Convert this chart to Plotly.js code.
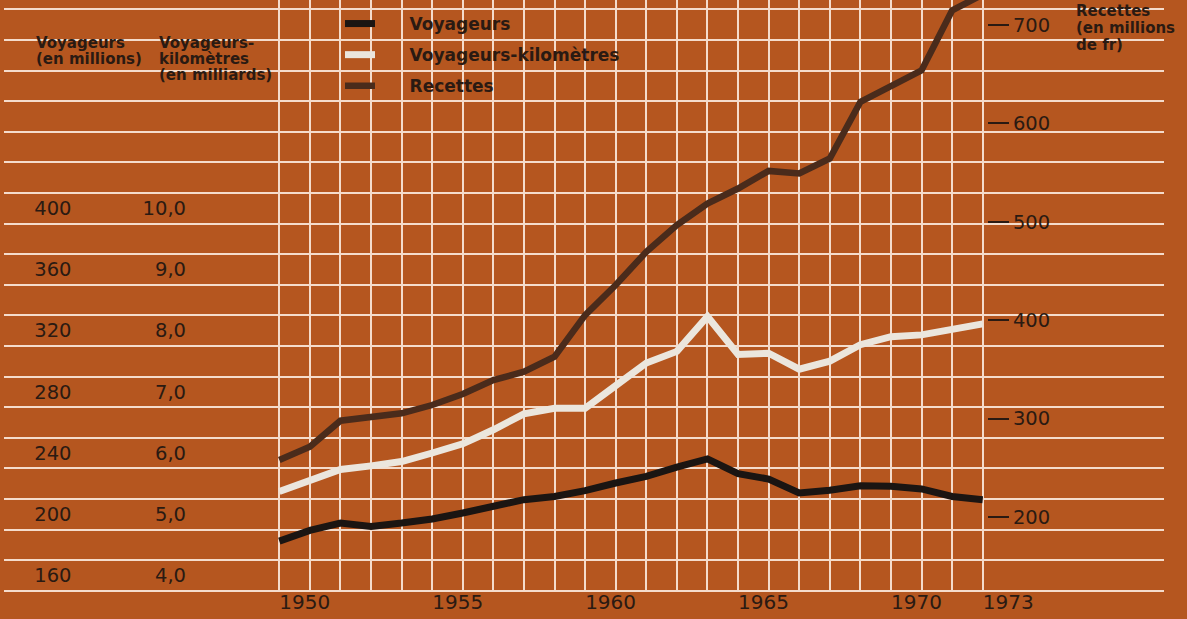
<!DOCTYPE html>
<html>
<head>
<meta charset="utf-8">
<script src="https://cdn.plot.ly/plotly-3.0.1.min.js"></script>
<style>
  html, body { margin: 0; padding: 0; background: #b5561f; }
  #chart { width: 1187px; height: 619px; }
</style>
</head>
<body>
<div id="chart"></div>
<script>
// ---- Data ----
const years = [1950, 1951, 1952, 1953, 1954, 1955, 1956, 1957, 1958, 1959, 1960, 1961,
               1962, 1963, 1964, 1965, 1966, 1967, 1968, 1969, 1970, 1971, 1972, 1973];
// Voyageurs (en millions)
const voyageurs = [182.4, 189.4, 194.2, 192.0, 194.2, 196.9, 200.8, 205.6, 209.5, 211.6, 215.4, 220.4,
                   224.7, 230.8, 236.1, 226.5, 223.0, 213.9, 215.6, 218.6, 218.2, 216.5, 211.6, 209.5];
// Voyageurs-kilomètres (en milliards)
const voyageursKm = [5.37, 5.54, 5.73, 5.79, 5.86, 6.00, 6.15, 6.38, 6.64, 6.73, 6.73, 7.10,
                     7.47, 7.66, 8.23, 7.61, 7.63, 7.37, 7.50, 7.77, 7.90, 7.93, 8.03, 8.11];
// Recettes (en millions de fr)
const recettes = [258, 271.5, 297.9, 302.0, 305.4, 313.8, 325.0, 339.2, 347.6, 362.9, 405.2, 435.7,
                  469.5, 496.6, 518.6, 533.8, 551.7, 549.1, 564.3, 621.8, 637.0, 653.9, 714.8, 731];

// ---- Tick labels ----
const xTickVals = years;
const xTickText = years.map(y => ([1950, 1955, 1960, 1965, 1970, 1973].includes(y) ? String(y) : ''));
const voyTickVals = [160, 200, 240, 280, 320, 360, 400];
const voyTickText = ['160', '200', '240', '280', '320', '360', '400'];
const vkTickVals = [4, 5, 6, 7, 8, 9, 10];
const vkTickText = ['4,0', '5,0', '6,0', '7,0', '8,0', '9,0', '10,0'];
const recTickVals = [200, 300, 400, 500, 600, 700];
const recTickText = ['200', '300', '400', '500', '600', '700'];

const seriesNames = ['Voyageurs', 'Voyageurs-kilomètres', 'Recettes'];

// ---- Style ----
const BG = '#b5561f';
const GRID = '#f5dccb';
const INK = '#2a1a12';
const FONT = 'DejaVu Sans';
const W = 1187, H = 619;
const M = {l: 4, r: 23, t: 0, b: 27};
const plotW = W - M.l - M.r, plotH = H - M.t - M.b;
// pixel -> paper helpers for text placement
const px = x => (x - M.l) / plotW;
const py = y => (H - M.b - y) / plotH;
const pad = '\u00a0\u00a0\u00a0\u00a0\u00a0';

const traces = [
  {x: years, y: voyageurs, yaxis: 'y', name: pad + seriesNames[0], legendgroup: 'a',
   mode: 'lines', line: {color: '#1b1512', width: 7}},
  {x: years, y: voyageursKm, yaxis: 'y2', name: pad + seriesNames[1], legendgroup: 'b',
   mode: 'lines', line: {color: '#ebe6dd', width: 7}},
  {x: years, y: recettes, yaxis: 'y3', name: pad + seriesNames[2], legendgroup: 'c',
   mode: 'lines', line: {color: '#4a2b1b', width: 6.5}}
];

const numFont = {family: FONT, size: 19.5, color: INK};
const titleFont = {family: FONT, size: 15, color: INK, weight: 'bold'};

function label(text, xpx, ypx, xanchor) {
  return {text: text, xref: 'paper', yref: 'paper', x: px(xpx), y: py(ypx),
          xanchor: xanchor || 'left', yanchor: 'middle', showarrow: false,
          font: titleFont, align: 'left'};
}

const layout = {
  width: W, height: H,
  margin: M,
  paper_bgcolor: BG, plot_bgcolor: BG,
  showlegend: true,
  legend: {xref: 'paper', yref: 'paper', x: px(340), y: py(6),
           xanchor: 'left', yanchor: 'top', bgcolor: 'rgba(0,0,0,0)',
           font: {family: FONT, size: 17, color: INK, weight: 'bold'},
           tracegroupgap: 6, itemwidth: 30},
  xaxis: {range: [1940.998, 1978.928], tickvals: xTickVals, ticktext: xTickText,
          showgrid: true, gridcolor: GRID, gridwidth: 2, zeroline: false, showline: false,
          ticks: '', tickangle: 0, ticklabelposition: 'outside right', ticklabelstandoff: -4,
          tickfont: {family: FONT, size: 20, color: INK}, fixedrange: true},
  yaxis: {range: [149.15, 536.08], tick0: 150, dtick: 20, showgrid: true, gridcolor: GRID, gridwidth: 2,
          zeroline: false, showline: false, showticklabels: false, fixedrange: true},
  yaxis4: {range: [149.15, 536.08], overlaying: 'y', anchor: 'free', position: px(71.5), side: 'left',
           tickvals: voyTickVals, ticktext: voyTickText, showgrid: false, zeroline: false,
           ticks: '', tickfont: numFont, fixedrange: true},
  yaxis2: {range: [3.7288, 13.402], overlaying: 'y', anchor: 'free', position: px(186), side: 'left',
           tickvals: vkTickVals, ticktext: vkTickText, showgrid: false, zeroline: false,
           ticks: '', tickfont: numFont, fixedrange: true},
  yaxis3: {range: [123.78, 725.41], overlaying: 'y', anchor: 'free', position: px(987), side: 'right',
           tickvals: recTickVals, ticktext: recTickText, showgrid: false, zeroline: false,
           ticks: 'outside', ticklen: 21, tickwidth: 2, tickcolor: INK,
           tickfont: numFont, fixedrange: true},
  annotations: [
    {text: 'Voyageurs', xref: 'paper', yref: 'paper', x: px(120), y: py(-1), xanchor: 'left',
     yanchor: 'bottom', showarrow: false, font: {family: FONT, size: 26, color: INK, weight: 'bold'}},
    label('Voyageurs', 34, 43),
    label('(en millions)', 34, 59),
    label('Voyageurs-', 157, 43),
    label('kilomètres', 157, 59),
    label('(en milliards)', 157, 75),
    label('Recettes', 1074, 11),
    label('(en millions', 1074, 28),
    label('de fr)', 1074, 45)
  ]
};

// helper trace to activate yaxis4 (labels only)
traces.push({x: [years[0]], y: [voyageurs[0]], yaxis: 'y4', mode: 'lines', showlegend: false,
             hoverinfo: 'skip', line: {width: 0}, opacity: 0});

Plotly.newPlot('chart', traces, layout, {displayModeBar: false, staticPlot: true});
</script>
</body>
</html>
